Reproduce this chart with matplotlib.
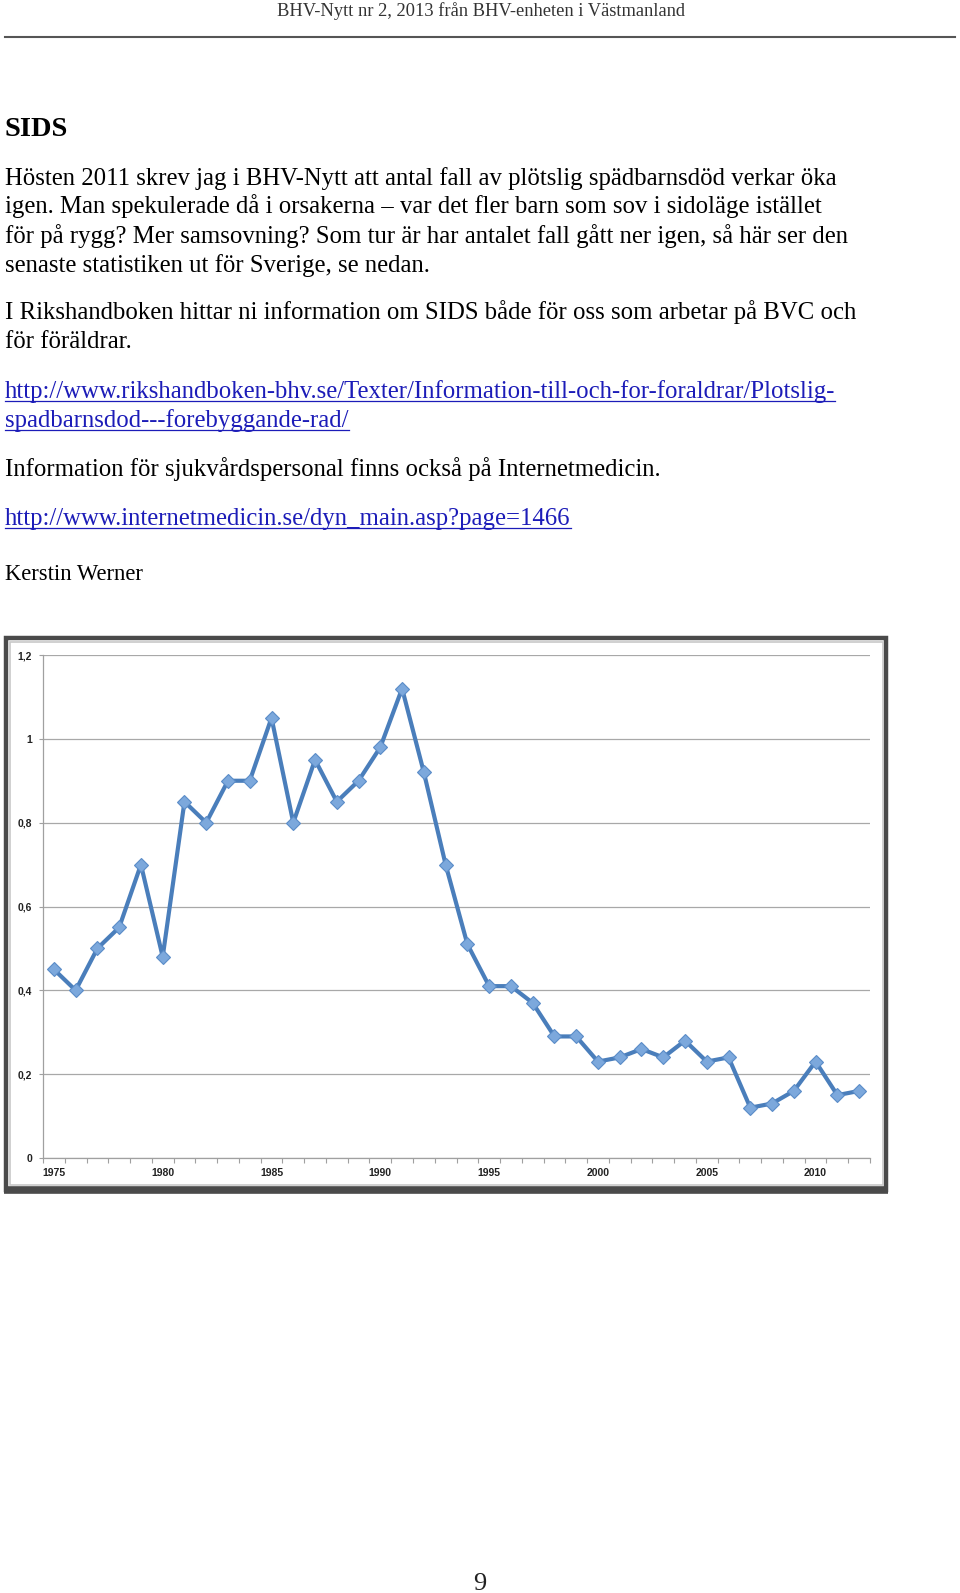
import matplotlib
matplotlib.use("Agg")
import matplotlib.pyplot as plt
from matplotlib.patches import Rectangle
from matplotlib.lines import Line2D

# === Data ===
years = list(range(1975, 2013))
sids = [0.45, 0.40, 0.50, 0.55, 0.70, 0.48, 0.85, 0.80, 0.90, 0.90,
        1.05, 0.80, 0.95, 0.85, 0.90, 0.98, 1.12, 0.92, 0.70, 0.51,
        0.41, 0.41, 0.37, 0.29, 0.29, 0.23, 0.24, 0.26, 0.24, 0.28,
        0.23, 0.24, 0.12, 0.13, 0.16, 0.23, 0.15, 0.16]
yticks = [0, 0.2, 0.4, 0.6, 0.8, 1.0, 1.2]
ytick_labels = ["0", "0,2", "0,4", "0,6", "0,8", "1", "1,2"]
xtick_years = [1975, 1980, 1985, 1990, 1995, 2000, 2005, 2010]

header = "BHV-Nytt nr 2, 2013 från BHV-enheten i Västmanland"
title = "SIDS"
body_lines = [
    "Hösten 2011 skrev jag i BHV-Nytt att antal fall av plötslig spädbarnsdöd verkar öka",
    "igen. Man spekulerade då i orsakerna – var det fler barn som sov i sidoläge istället",
    "för på rygg? Mer samsovning? Som tur är har antalet fall gått ner igen, så här ser den",
    "senaste statistiken ut för Sverige, se nedan.",
    "I Rikshandboken hittar ni information om SIDS både för oss som arbetar på BVC och",
    "för föräldrar.",
    "http://www.rikshandboken-bhv.se/Texter/Information-till-och-for-foraldrar/Plotslig-",
    "spadbarnsdod---forebyggande-rad/",
    "Information för sjukvårdspersonal finns också på Internetmedicin.",
    "http://www.internetmedicin.se/dyn_main.asp?page=1466",
]
link_flags = [False, False, False, False, False, False, True, True, False, True]
signature = "Kerstin Werner"
page_no = "9"

# === Page layout (pixels, from top) ===
W, H = 960, 1593
DPI = 100
SERIF = ["Liberation Serif", "DejaVu Serif"]
line_base = [185, 213, 243, 272, 319, 348, 398, 427, 476, 525]

fig = plt.figure(figsize=(W / DPI, H / DPI), dpi=DPI)
fig.patch.set_facecolor("white")
r = fig.canvas.get_renderer()


def fy(y):
    return 1 - y / H


def fit(txt, width, **kw):
    # tamaño de fuente para que el texto ocupe 'width' pixeles
    t = fig.text(0, 0, txt, fontsize=10, **kw)
    w = t.get_window_extent(r).width
    t.remove()
    return 10 * width / w


body_fs = fit(body_lines[0], 836, family=SERIF)

# header + separator
fig.text(481 / W, fy(16), header, family=SERIF, color="#333333",
         fontsize=fit(header, 410, family=SERIF), ha="center", va="baseline")
fig.add_artist(Line2D([5 / W, 955 / W], [fy(37), fy(37)], color="#555555",
                      lw=1.5, transform=fig.transFigure))

# title
fig.text(5 / W, fy(136), title, family=SERIF, weight="bold", color="black",
         fontsize=fit(title, 63, family=SERIF, weight="bold"), va="baseline")

# body text and links
for txt, yb, is_link in zip(body_lines, line_base, link_flags):
    col = "#1c1cb8" if is_link else "black"
    t = fig.text(5 / W, fy(yb), txt, family=SERIF, fontsize=body_fs,
                 color=col, va="baseline")
    if is_link:
        bb = t.get_window_extent(r)
        yline = (H - yb - 3) / H
        fig.add_artist(Line2D([bb.x0 / W, bb.x1 / W], [yline, yline],
                              color=col, lw=0.9, transform=fig.transFigure))

fig.text(5 / W, fy(580), signature, family=SERIF, color="black",
         fontsize=fit(signature, 138, family=SERIF), va="baseline")

fig.text(480 / W, fy(1590), page_no, family=SERIF, color="#222222",
         fontsize=19, ha="center", va="baseline")

# chart frame (dark border, thicker at the bottom, light inner line)
fig.add_artist(Rectangle((6 / W, fy(1190)), 880 / W, 552 / H, fill=False,
                         ec="#4a4a4a", lw=3.2, transform=fig.transFigure))
fig.add_artist(Line2D([4 / W, 888 / W], [fy(1190), fy(1190)], color="#4a4a4a",
                      lw=5.5, solid_capstyle="butt", transform=fig.transFigure))
fig.add_artist(Rectangle((9.5 / W, fy(1185)), 873 / W, 543 / H, fill=False,
                         ec="#c8c8c8", lw=1.2, transform=fig.transFigure))

# === Chart ===
ax = fig.add_axes([43 / W, fy(1158), (870 - 43) / W, (1158 - 655) / H])
ax.set_facecolor("white")
ax.set_xlim(1974.5, 2012.5)
ax.set_ylim(0, 1.2)

ax.set_yticks(yticks)
ax.set_yticklabels(ytick_labels)
ax.yaxis.grid(True, color="#a8a8a8", lw=0.9)
ax.set_axisbelow(True)

bounds = [y - 0.5 for y in years] + [years[-1] + 0.5]
ax.set_xticks(bounds)
ax.set_xticklabels([""] * len(bounds))
ax.set_xticks(xtick_years, minor=True)
ax.set_xticklabels([str(y) for y in xtick_years], minor=True)

for s in ["top", "right"]:
    ax.spines[s].set_visible(False)
for s in ["left", "bottom"]:
    ax.spines[s].set_color("#a0a0a0")
    ax.spines[s].set_linewidth(0.9)

ax.tick_params(axis="y", length=3, width=0.8, color="#a0a0a0", pad=5.0,
               labelsize=7.5, labelcolor="#222222")
ax.tick_params(axis="x", which="major", length=3.5, width=0.8, color="#a0a0a0")
ax.tick_params(axis="x", which="minor", length=0, pad=7,
               labelsize=7.5, labelcolor="#222222")
for lab in ax.get_yticklabels() + ax.get_xticklabels(minor=True):
    lab.set_family(["Liberation Sans", "DejaVu Sans"])
    lab.set_weight("bold")

ax.plot(years, sids, color="#4a7ebb", lw=3.0, marker="D", ms=6.8,
        mfc="#7ca8dc", mec="#5a8cc8", mew=0.8, solid_joinstyle="round")

fig.savefig("out.png", dpi=DPI)
